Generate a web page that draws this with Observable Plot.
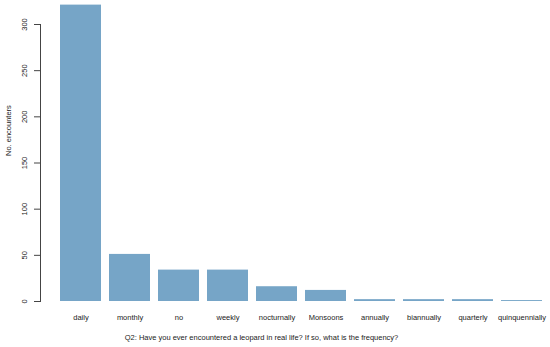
<!DOCTYPE html>
<html>
<head>
<meta charset="utf-8">
<script src="https://cdn.jsdelivr.net/npm/d3@7"></script>
<script src="https://cdn.jsdelivr.net/npm/@observablehq/plot@0.6"></script>
<style>
  html, body { margin: 0; padding: 0; background: #fff; }
  svg { font-family: "Liberation Sans", Arial, sans-serif; }
</style>
</head>
<body>
<div id="chart"></div>
<script>
const categories = ["daily", "monthly", "no", "weekly", "nocturnally", "Monsoons", "annually", "biannually", "quarterly", "quinquennially"];
const counts = [321, 51, 34, 34, 16, 12, 2, 2, 2, 1];
const yTicks = [0, 50, 100, 150, 200, 250, 300];
const xTitle = "Q2: Have you ever encountered a leopard in real life? If so, what is the frequency?";
const yTitle = "No. encounters";

const data = categories.map((c, i) => ({category: c, count: counts[i]}));

const chart = Plot.plot({
  width: 550,
  height: 347,
  marginLeft: 40,
  marginRight: 6,
  marginTop: 24,
  marginBottom: 46,
  style: {fontFamily: "Liberation Sans, Arial, sans-serif", fontSize: "7.5px", color: "#222", background: "#fff"},
  x: {domain: categories, range: [58.3, 544], paddingInner: 0.2 / 1.2, paddingOuter: 0},
  y: {domain: [0, 300]},
  marks: [
    Plot.barY(data, {x: "category", y: "count", fill: "#76a5c7"}),
    Plot.frame({anchor: "left", stroke: "#444"}),
    Plot.axisY({ticks: yTicks, tickSize: 6, tickPadding: 8, tickRotate: -90, stroke: "#444", label: null}),
    Plot.axisX({tickSize: 0, tickPadding: 13, label: null}),
    Plot.text([yTitle], {frameAnchor: "left", rotate: -90, dx: -32, dy: -7, fill: "#222", fontSize: 7.5}),
    Plot.text([xTitle], {frameAnchor: "bottom", dx: -31, dy: 38, fill: "#222", fontSize: 7.5})
  ]
});
document.getElementById("chart").appendChild(chart);
</script>
</body>
</html>
